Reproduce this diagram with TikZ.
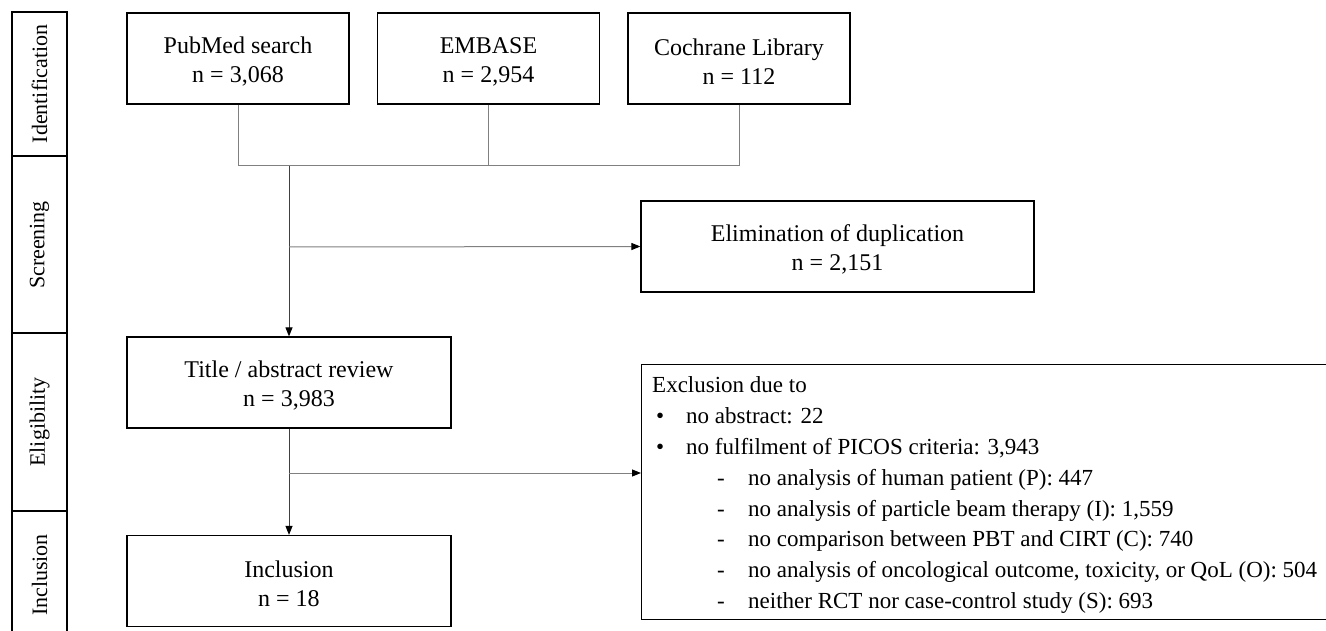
\documentclass[tikz,border=0pt]{standalone}
\usepackage{fontspec}
\setmainfont{Liberation Serif}
\usetikzlibrary{arrows.meta}
\newcommand{\mystrut}{\rule{0pt}{23pt}}
\begin{document}
\begin{tikzpicture}[x=1pt,y=-1pt,
  box/.style={draw=black, line width=1.2pt, align=center, inner sep=0pt, font=\fontsize{24}{29}\selectfont},
  frame/.style={draw=black, line width=1.2pt},
  conn/.style={draw=black!50, line width=1pt},
  vconn/.style={draw=black!75, line width=1pt},
  tip/.style={-{Triangle[length=9pt,width=7pt,color=black]}},
  phase/.style={rotate=90, font=\fontsize{22}{26}\selectfont, inner sep=0pt}]
\useasboundingbox (0,0) rectangle (1326,631);
% phase sidebar
\draw[frame] (12,640) -- (12,12) -- (67,12) -- (67,640);
\draw[frame] (12,156) -- (67,156) (12,333) -- (67,333) (12,511) -- (67,511);
\node[phase] (ident) at (39.5,84) {Identification};
\node[phase] (screen) at (39.5,245) {Screening};
\node[phase] (elig) at (39.5,422) {Eligibility};
\node[phase] (inclab) at (39.5,575) {Inclusion};
% boxes
\node[box, minimum width=222pt, minimum height=91pt] (pub) at (238,58.5) {\mystrut PubMed search\\n = 3,068};
\node[box, minimum width=222pt, minimum height=91pt] (emb) at (488.5,58.5) {\mystrut EMBASE\\n = 2,954};
\node[box, minimum width=222pt, minimum height=91pt] (coch) at (739,58.5) {\mystrut Cochrane Library\\n = 112};
\node[box, minimum width=393pt, minimum height=91pt] (elim) at (837.5,246.5) {\mystrut Elimination of duplication\\n = 2,151};
\node[box, minimum width=324pt, minimum height=91pt] (title) at (289,382.5) {\mystrut Title / abstract review\\n = 3,983};
\node[box, minimum width=324pt, minimum height=91pt] (incl) at (289,581) {\mystrut Inclusion\\n = 18};
\node[frame, anchor=north west, minimum width=700pt, minimum height=255pt, inner sep=0pt] (excl) at (641,364) {};
\node[anchor=north west, align=left, inner sep=0pt, font=\fontsize{23}{30.9}\selectfont] (excltext) at (652,376.3) {Exclusion due to\\
\hspace*{4pt}\makebox[30pt][l]{•}no abstract: 22\\
\hspace*{4pt}\makebox[30pt][l]{•}no fulfilment of PICOS criteria: 3,943\\
\hspace*{65pt}\makebox[31pt][l]{-}no analysis of human patient (P): 447\\
\hspace*{65pt}\makebox[31pt][l]{-}no analysis of particle beam therapy (I): 1,559\\
\hspace*{65pt}\makebox[31pt][l]{-}no comparison between PBT and CIRT (C): 740\\
\hspace*{65pt}\makebox[31pt][l]{-}no analysis of oncological outcome, toxicity, or QoL (O): 504\\
\hspace*{65pt}\makebox[31pt][l]{-}neither RCT nor case-control study (S): 693};
% connectors
\coordinate (hub) at (289,166);
\coordinate (br1) at (289,247);
\coordinate (br2) at (289,473);
\draw[conn] (pub.south) |- (hub);
\draw[conn] (coch.south) |- (hub);
\draw[conn] (emb.south) -- (emb.south |- hub);
\draw[vconn, tip] (hub) -- (title.north);
\draw[conn, tip] (br1) -- (elim.west);
\draw[vconn, tip] (title.south) -- (incl.north);
\draw[conn, tip] (br2) -- (br2 -| excl.west);
\end{tikzpicture}
\end{document}
